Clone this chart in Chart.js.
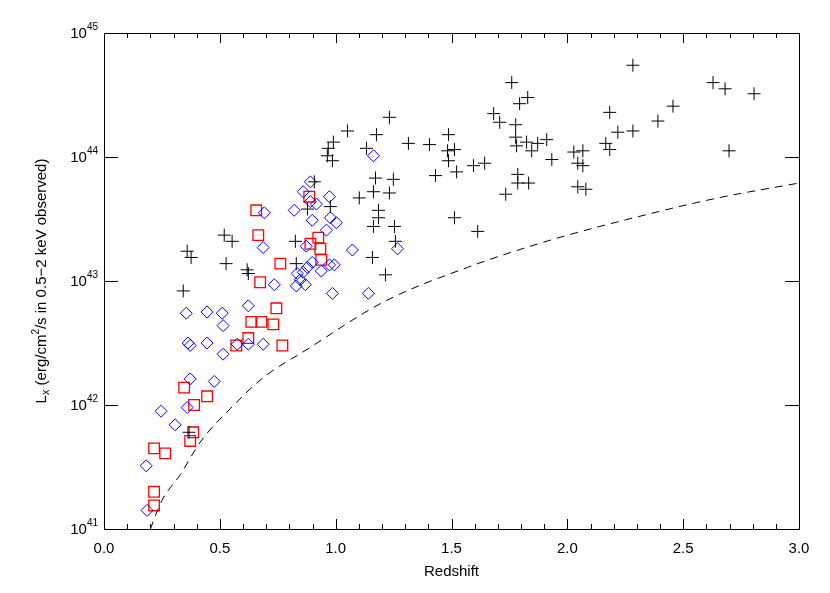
<!DOCTYPE html>
<html>
<head>
<meta charset="utf-8">
<script src="https://cdn.jsdelivr.net/npm/chart.js@4"></script>
<style>
  html, body { margin: 0; padding: 0; background: #fff; }
  #wrap { width: 830px; height: 593px; }
</style>
</head>
<body>
<div id="wrap"><canvas id="chart"></canvas></div>
<script>
// redshift and log10(Lx)
const crossZ = [1.405,1.487,1.483,1.513,1.487,1.522,1.431,1.595,1.643,1.513,1.613,1.760,1.829,1.794,1.682,1.708,1.777,1.777,1.781,1.824,1.872,1.911,1.846,1.933,1.786,1.786,1.833,1.734,2.028,2.067,2.045,2.067,2.045,2.080,2.283,2.183,2.218,2.283,2.166,2.183,2.391,2.456,2.629,2.681,2.806,2.698,
  1.232,1.051,1.176,1.314,0.990,0.968,0.964,0.986,1.133,1.172,1.249,0.908,1.102,1.163,1.232,0.977,0.878,1.185,1.185,1.163,1.254,0.826,1.258,0.830,1.159,1.215,
  0.359,0.376,0.342,0.367,0.519,0.553,0.527,0.618,0.623];
const crossL = [44.10,44.18,44.05,44.06,43.97,43.88,43.85,43.93,43.95,43.51,43.40,44.60,44.48,44.43,44.35,44.28,44.26,44.16,44.09,44.12,44.11,44.14,44.05,43.98,43.86,43.79,43.79,43.70,44.04,44.05,43.95,43.93,43.76,43.74,44.74,44.36,44.20,44.21,44.11,44.06,44.29,44.41,44.60,44.55,44.51,44.05,
  44.32,44.21,44.18,44.11,44.12,44.07,44.01,43.97,44.07,43.83,43.82,43.80,43.67,43.72,43.71,43.60,43.58,43.57,43.51,43.44,43.44,43.32,43.32,43.14,43.19,43.05,
  43.24,43.19,42.92,41.78,43.37,43.32,43.14,43.09,43.06];

const diamondZ = [1.163,0.891,0.860,0.973,0.891,0.917,0.821,0.692,0.899,0.977,1.003,0.960,0.873,0.687,1.072,1.267,0.899,0.973,0.994,0.878,0.860,0.834,0.938,0.847,0.830,0.869,0.735,0.986,1.141,0.623,0.355,0.445,0.510,0.514,0.363,0.372,0.445,0.514,0.575,0.623,0.687,0.372,0.476,0.246,0.307,0.359,0.182,0.186];
const diamondL = [44.01,43.80,43.72,43.68,43.64,43.62,43.57,43.55,43.49,43.51,43.47,43.41,43.28,43.27,43.25,43.26,43.15,43.13,43.13,43.11,43.07,43.06,43.08,43.01,42.96,42.97,42.97,42.90,42.90,42.80,42.74,42.75,42.74,42.64,42.50,42.48,42.50,42.41,42.49,42.49,42.49,42.21,42.19,41.95,41.84,41.98,41.51,41.15];

const squareZ = [0.886,0.657,0.666,0.925,0.891,0.934,0.938,0.761,0.674,0.744,0.636,0.679,0.731,0.623,0.571,0.770,0.346,0.445,0.389,0.385,0.372,0.216,0.264,0.216,0.216];
const squareL = [43.68,43.57,43.37,43.35,43.30,43.26,43.17,43.14,42.99,42.78,42.67,42.67,42.65,42.54,42.48,42.48,42.14,42.07,42.00,41.78,41.71,41.65,41.61,41.30,41.19];

// flux limit curve
const limitZ = [0.20,0.25,0.33,0.415,0.545,0.687,0.878,1.206,1.569,1.928,2.287,2.650,3.0];
const limitL = [41.0,41.23,41.44,41.70,41.97,42.22,42.45,42.83,43.11,43.33,43.51,43.67,43.79];

const xTicks = [0.0,0.5,1.0,1.5,2.0,2.5,3.0];
const yTicks = [41,42,43,44,45];

const pts = (zs, ls) => zs.map((z, i) => ({ x: z, y: Math.pow(10, ls[i]) }));

const FONT = '"Liberation Sans", Arial, sans-serif';

// axes frame, ticks and labels drawn by hand (IDL look)
const framePlugin = {
  id: "frame",
  afterDraw(chart) {
    const { ctx, chartArea: a, scales } = chart;
    const sx = scales.x, sy = scales.y;
    ctx.save();
    ctx.strokeStyle = "#000";
    ctx.lineWidth = 1;
    ctx.strokeRect(a.left + 0.5, a.top + 0.5, a.right - a.left, a.bottom - a.top);
    ctx.beginPath();
    for (let i = 0; i <= 30; i++) {
      const px = Math.round(sx.getPixelForValue(i / 10)) + 0.5;
      const len = i % 5 === 0 ? 10 : 5;
      ctx.moveTo(px, a.bottom); ctx.lineTo(px, a.bottom - len);
      ctx.moveTo(px, a.top); ctx.lineTo(px, a.top + len);
    }
    yTicks.forEach(t => {
      const py = Math.round(sy.getPixelForValue(Math.pow(10, t))) + 0.5;
      ctx.moveTo(a.left, py); ctx.lineTo(a.left + 14, py);
      ctx.moveTo(a.right, py); ctx.lineTo(a.right - 14, py);
    });
    ctx.stroke();

    ctx.fillStyle = "#000";
    ctx.font = "15px " + FONT;
    ctx.textAlign = "center";
    ctx.textBaseline = "top";
    xTicks.forEach(t => ctx.fillText(t.toFixed(1), sx.getPixelForValue(t), a.bottom + 12));
    ctx.fillText("Redshift", (a.left + a.right) / 2, a.bottom + 35);

    yTicks.forEach(t => {
      const py = sy.getPixelForValue(Math.pow(10, t));
      ctx.font = "10px " + FONT;
      ctx.textAlign = "right";
      ctx.textBaseline = "alphabetic";
      ctx.fillText(String(t), a.left - 6, py - 3);
      const ew = ctx.measureText(String(t)).width;
      ctx.font = "15px " + FONT;
      ctx.fillText("10", a.left - 6 - ew, py + 5);
    });

    // rotated y title
    ctx.translate(42, (a.top + a.bottom) / 2);
    ctx.rotate(-Math.PI / 2);
    const parts = [
      ["L", 15, 0], ["x", 11, 4], [" (erg/cm", 15, 0], ["2", 10, -6],
      ["/s in 0.5\u22122 keV observed)", 15, 0]
    ];
    let total = 0;
    parts.forEach(p => { ctx.font = p[1] + "px " + FONT; total += ctx.measureText(p[0]).width; });
    let cx = -total / 2;
    ctx.textAlign = "left";
    ctx.textBaseline = "middle";
    parts.forEach(p => {
      ctx.font = p[1] + "px " + FONT;
      ctx.fillText(p[0], cx, p[2]);
      cx += ctx.measureText(p[0]).width;
    });
    ctx.restore();
  }
};

new Chart(document.getElementById("chart"), {
  type: "scatter",
  data: {
    datasets: [
      {
        label: "limit",
        type: "line",
        data: pts(limitZ, limitL),
        borderColor: "#000",
        borderWidth: 1,
        borderDash: [8, 6],
        pointRadius: 0,
        cubicInterpolationMode: "monotone",
        fill: false
      },
      {
        label: "cross",
        data: pts(crossZ, crossL),
        pointStyle: "cross",
        pointRadius: 6.5,
        borderColor: "#000",
        borderWidth: 1
      },
      {
        label: "diamond",
        data: pts(diamondZ, diamondL),
        pointStyle: "rectRot",
        pointRadius: 6,
        backgroundColor: "rgba(0,0,0,0)",
        borderColor: "#0000ff",
        borderWidth: 1
      },
      {
        label: "square",
        data: pts(squareZ, squareL),
        pointStyle: "rect",
        pointRadius: 7.5,
        backgroundColor: "rgba(0,0,0,0)",
        borderColor: "#ff0000",
        borderWidth: 1.3
      }
    ]
  },
  options: {
    responsive: true,
    maintainAspectRatio: false,
    animation: false,
    layout: { padding: { left: 96, right: 31, top: 33, bottom: 56 } },
    plugins: { legend: { display: false }, tooltip: { enabled: false } },
    scales: {
      x: {
        type: "linear", min: 0, max: 3,
        grid: { display: false }, border: { display: false },
        ticks: { display: false }
      },
      y: {
        type: "logarithmic", min: 1e41, max: 1e45,
        grid: { display: false }, border: { display: false },
        ticks: { display: false }
      }
    }
  },
  plugins: [framePlugin]
});
</script>
</body>
</html>
